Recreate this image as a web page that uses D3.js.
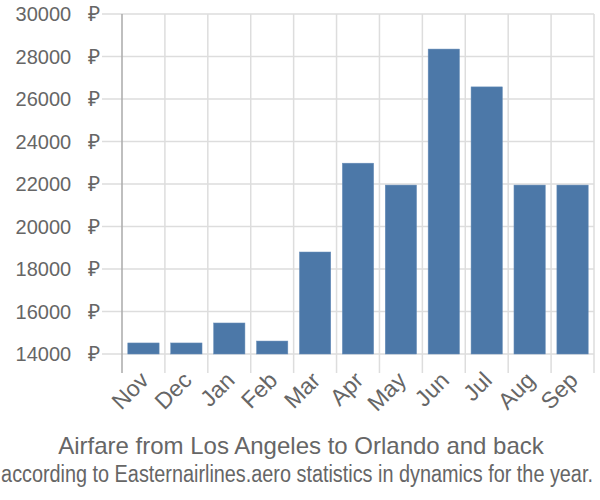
<!DOCTYPE html>
<html>
<head>
<meta charset="utf-8">
<script src="https://cdn.jsdelivr.net/npm/d3@7"></script>
<style>
  body { margin: 0; background: #fff; }
  text { font-family: "Liberation Sans", Arial, sans-serif; fill: #666; }
</style>
</head>
<body>
<svg id="chart" width="600" height="500"></svg>
<script>
const months = ['Nov', 'Dec', 'Jan', 'Feb', 'Mar', 'Apr', 'May', 'Jun', 'Jul', 'Aug', 'Sep'];
const prices = [14520, 14520, 15460, 14610, 18800, 22980, 21950, 28350, 26570, 21950, 21950];
const yTicks = [14000, 16000, 18000, 20000, 22000, 24000, 26000, 28000, 30000];
const title = 'Airfare from Los Angeles to Orlando and back';
const subtitle = 'according to Easternairlines.aero statistics in dynamics for the year.';

const width = 600;
const height = 500;
const margin = { top: 14, right: 6, bottom: 146, left: 122 };

const svg = d3.select('#chart');

const x = d3.scaleBand()
  .domain(months)
  .range([margin.left, width - margin.right])
  .paddingInner(0.27)
  .paddingOuter(0.135);

const y = d3.scaleLinear()
  .domain([14000, 30000])
  .range([height - margin.bottom, margin.top]);

const step = x.step();
const x0 = margin.left;
const bounds = d3.range(months.length + 1).map(i => x0 + i * step);

// horizontal grid + y labels
const gy = svg.append('g');
gy.selectAll('line')
  .data(yTicks)
  .enter().append('line')
  .attr('x1', margin.left - 20)
  .attr('x2', width - margin.right)
  .attr('y1', d => y(d))
  .attr('y2', d => y(d))
  .attr('stroke', '#ddd')
  .attr('stroke-width', 1.5);
const ylab = gy.selectAll('text')
  .data(yTicks)
  .enter().append('text')
  .attr('x', margin.left - 22)
  .attr('y', d => y(d))
  .attr('dy', '0.35em')
  .attr('text-anchor', 'end')
  .style('font-size', '21px');
ylab.append('tspan').style('font-size', '20px').text(d => d);
ylab.append('tspan').attr('dx', 11).text(' ₽');

// vertical grid at band boundaries
svg.append('g').selectAll('line')
  .data(bounds)
  .enter().append('line')
  .attr('x1', d => d)
  .attr('x2', d => d)
  .attr('y1', margin.top)
  .attr('y2', height - margin.bottom + 19)
  .attr('stroke', (d, i) => i === 0 ? '#aaa' : '#ddd')
  .attr('stroke-width', 1.5);

// bars
svg.append('g').selectAll('rect')
  .data(months)
  .enter().append('rect')
  .attr('x', d => x(d))
  .attr('width', x.bandwidth())
  .attr('y', (d, i) => y(prices[i]))
  .attr('height', (d, i) => y(14000) - y(prices[i]))
  .attr('fill', '#4c78a8')
  .attr('stroke', '#6a8fba')
  .attr('stroke-width', 0.5);

// x labels
svg.append('g').selectAll('text')
  .data(months)
  .enter().append('text')
  .attr('transform', d => `translate(${x(d) + x.bandwidth() / 2 + 1},${height - margin.bottom + 22}) rotate(-45)`)
  .attr('text-anchor', 'end')
  .attr('dy', '0.35em')
  .style('font-size', '23px')
  .text(d => d);

svg.append('text')
  .attr('x', 301)
  .attr('y', 454)
  .attr('text-anchor', 'middle')
  .style('font-size', '24px')
  .text(title);

// subtitle is drawn condensed: squeeze it horizontally to fit
const sub = svg.append('text')
  .attr('text-anchor', 'middle')
  .style('font-size', '23px')
  .text(subtitle);
const subW = sub.node().getComputedTextLength();
const sx = Math.min(1, 592 / subW);
sub.attr('transform', `translate(297,482) scale(${sx},1)`);
</script>
</body>
</html>
